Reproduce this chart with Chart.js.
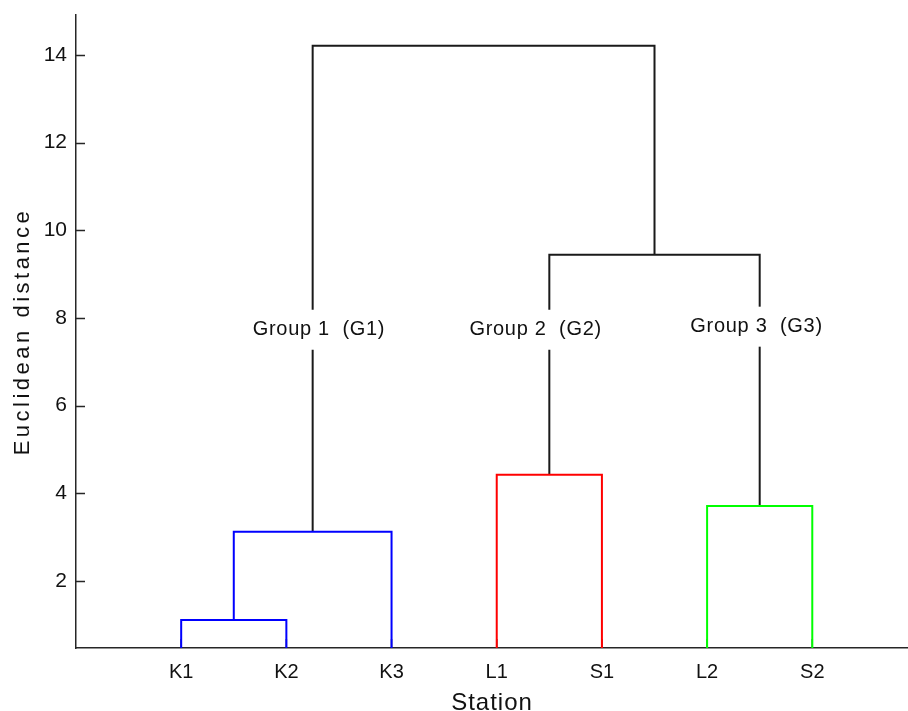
<!DOCTYPE html>
<html><head><meta charset="utf-8">
<script src="https://cdn.jsdelivr.net/npm/chart.js@4/dist/chart.umd.min.js"></script>
<style>html,body{margin:0;padding:0;background:#fff}#wrap{width:908px;height:711px;position:relative}</style>
</head><body><div id="wrap"><canvas id="c"></canvas></div>
<script>
// Leaves (stations) in dendrogram order
const stations = ['K1','K2','K3','L1','S1','L2','S2'];
// Linkage: node ids 0..6 are leaves, 7.. are clusters created in order
const linkLeft   = [0, 7, 3, 5, 9, 8];
const linkRight  = [1, 2, 4, 6, 10, 11];
const linkHeight = [1.11, 3.12, 4.42, 3.71, 9.44, 14.21];
const linkColor  = ['#0000ff','#0000ff','#ff0000','#00ff00','#1a1a1a','#1a1a1a'];
const yTicks = [2, 4, 6, 8, 10, 12, 14];
const groupLabels = ['Group 1  (G1)', 'Group 2  (G2)', 'Group 3  (G3)'];
const groupLabelX = [2.31, 4.37, 6.47];
const groupLabelY = [7.73, 7.73, 7.80];

const FONT = "'Liberation Sans', Arial, Helvetica, sans-serif";
const AX = '#262626';

// node positions
const nodeX = stations.map((s, i) => i + 1);
const nodeY = stations.map(() => 0);
const datasets = [];
linkHeight.forEach((h, k) => {
  const l = linkLeft[k], r = linkRight[k];
  datasets.push({
    type: 'line',
    data: [
      {x: nodeX[l], y: nodeY[l]},
      {x: nodeX[l], y: h},
      {x: nodeX[r], y: h},
      {x: nodeX[r], y: nodeY[r]}
    ],
    borderColor: linkColor[k],
    borderWidth: 2,
    pointRadius: 0,
    tension: 0,
    fill: false
  });
  nodeX.push((nodeX[l] + nodeX[r]) / 2);
  nodeY.push(h);
});

function spacedTitle(scale, spacing) {
  if (scale._spacedTitle) return;
  scale._spacedTitle = true;
  const orig = scale.drawTitle;
  scale.drawTitle = function () {
    const ctx = this.ctx;
    ctx.save();
    ctx.letterSpacing = spacing;
    orig.apply(this, arguments);
    ctx.restore();
  };
}

const innerTicks = {
  id: 'innerTicks',
  beforeDatasetsDraw(chart) {
    const {ctx, chartArea, scales} = chart;
    ctx.save();
    ctx.strokeStyle = AX; ctx.lineWidth = 1.5;
    ctx.beginPath();
    yTicks.forEach(v => {
      const y = Math.round(scales.y.getPixelForValue(v)) + 0.5;
      ctx.moveTo(chartArea.left, y); ctx.lineTo(chartArea.left + 9, y);
    });
    stations.forEach((s, i) => {
      const x = scales.x.getPixelForValue(i + 1);
      ctx.moveTo(x, chartArea.bottom); ctx.lineTo(x, chartArea.bottom - 9);
    });
    ctx.stroke();
    ctx.restore();
  }
};

const groupText = {
  id: 'groupText',
  afterDatasetsDraw(chart) {
    const {ctx, scales} = chart;
    ctx.save();
    ctx.font = '20px ' + FONT;
    ctx.letterSpacing = '0.7px';
    ctx.textAlign = 'center';
    ctx.textBaseline = 'middle';
    groupLabels.forEach((t, i) => {
      const x = scales.x.getPixelForValue(groupLabelX[i]);
      const y = scales.y.getPixelForValue(groupLabelY[i]);
      const w = ctx.measureText(t).width;
      ctx.fillStyle = '#ffffff';
      ctx.fillRect(x - w / 2 - 4, y - 20, w + 8, 40);
      ctx.fillStyle = '#111111';
      ctx.fillText(t, x, y);
    });
    ctx.restore();
  }
};

new Chart(document.getElementById('c'), {
  type: 'line',
  data: { datasets },
  options: {
    responsive: true,
    maintainAspectRatio: false,
    animation: false,
    layout: { padding: { top: 15, right: 0, left: 0, bottom: 0 } },
    plugins: { legend: { display: false }, tooltip: { enabled: false } },
    scales: {
      x: {
        type: 'linear', min: 0, max: 7.91,
        afterBuildTicks: s => { s.ticks = stations.map((n, i) => ({ value: i + 1 })); },
        afterFit: s => { s.height = 63; s.paddingLeft = 0; s.paddingRight = 0; spacedTitle(s, '1px'); },
        grid: { display: true, drawOnChartArea: false, drawTicks: false },
        border: { display: true, color: AX, width: 1.5 },
        ticks: { padding: 12, color: '#111', font: { family: FONT, size: 20 },
                 callback: v => stations[Math.round(v) - 1], maxRotation: 0, autoSkip: false },
        title: { display: true, text: 'Station', color: '#111',
                 font: { family: FONT, size: 24, lineHeight: 0.65 }, padding: { top: 0, bottom: 0 } }
      },
      y: {
        type: 'linear', min: 0.47, max: 14.91,
        afterBuildTicks: s => { s.ticks = yTicks.map(v => ({ value: v })); },
        afterFit: s => { s.width = 76; s.paddingTop = 0; s.paddingBottom = 0; spacedTitle(s, '3.5px'); },
        grid: { display: true, drawOnChartArea: false, drawTicks: false },
        border: { display: true, color: AX, width: 1.5 },
        ticks: { padding: 9, color: '#111', font: { family: FONT, size: 21 } },
        title: { display: true, text: 'Euclidean distance', color: '#111',
                 font: { family: FONT, size: 22, lineHeight: 0.9 }, padding: { top: 13, bottom: 0 } }
      }
    }
  },
  plugins: [innerTicks, groupText]
});
</script>
</body></html>
